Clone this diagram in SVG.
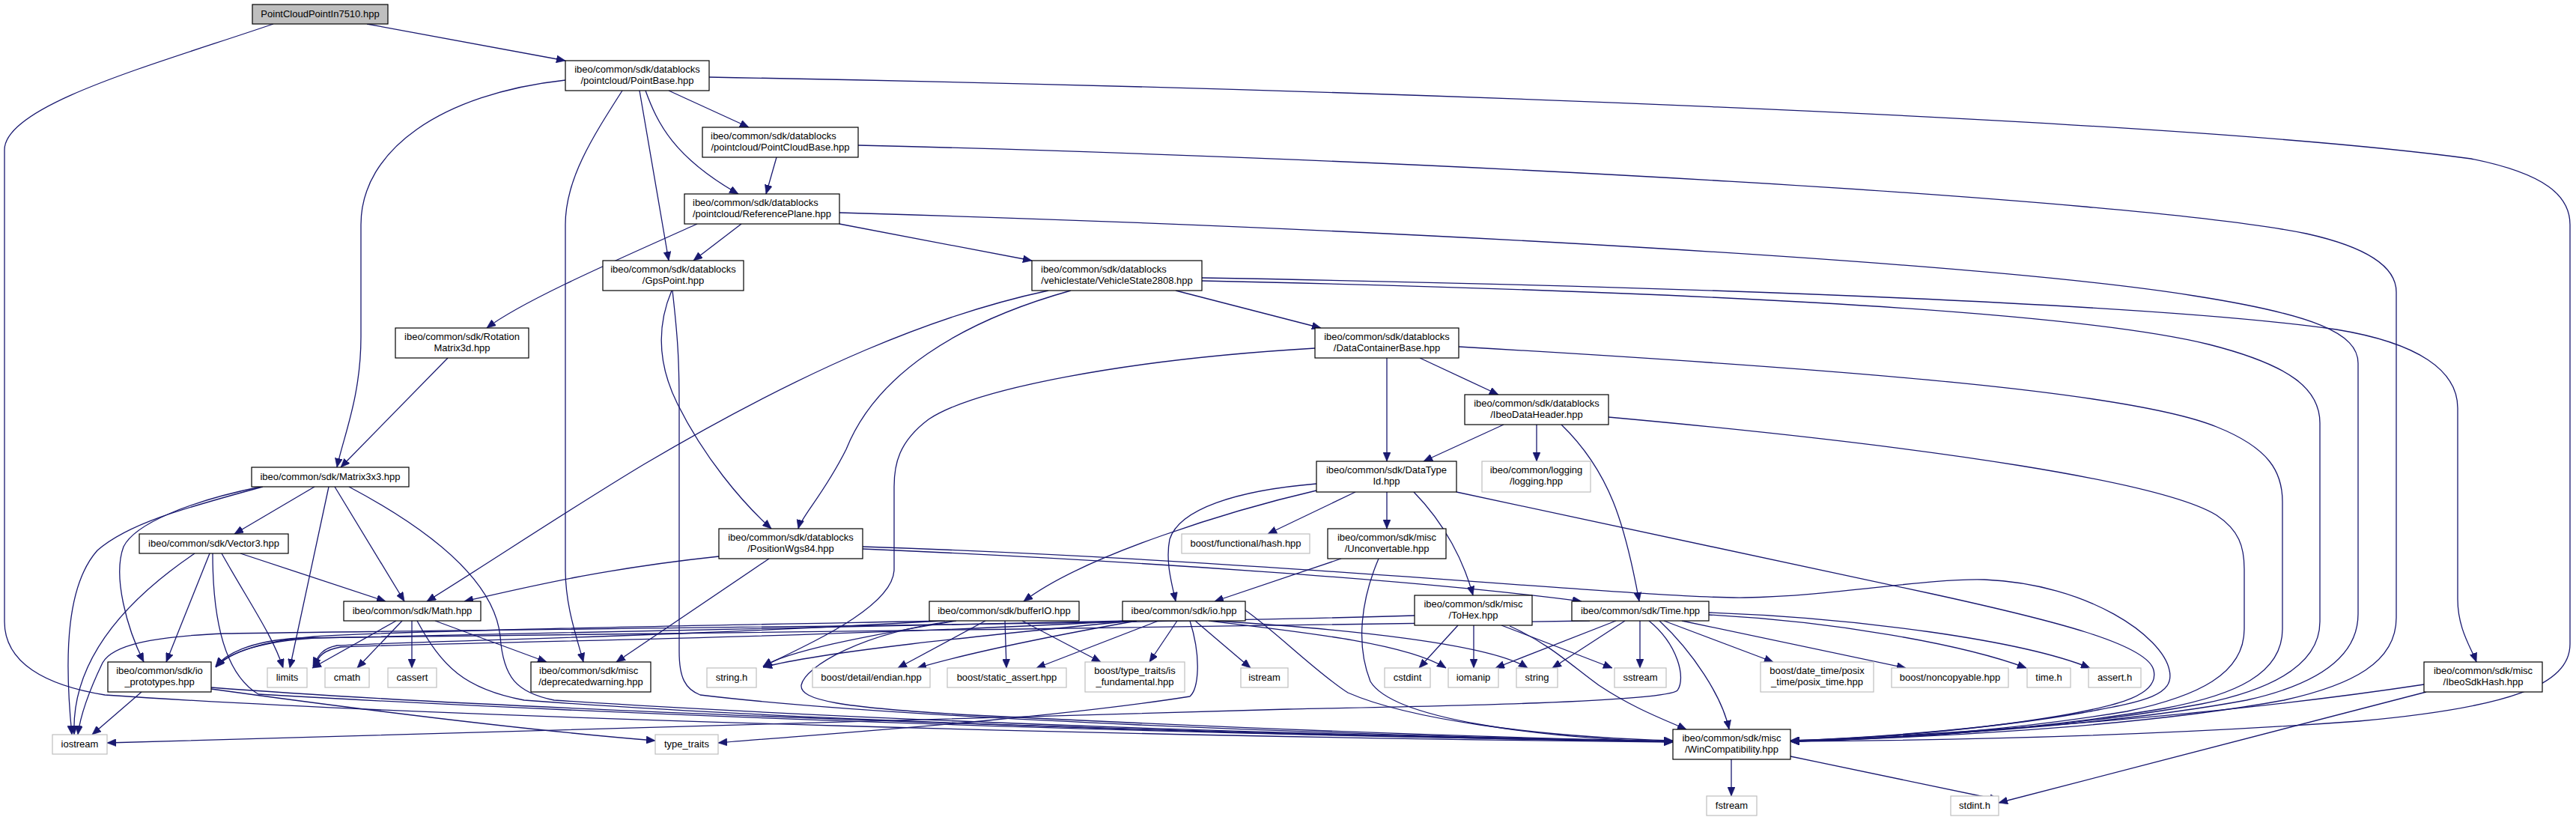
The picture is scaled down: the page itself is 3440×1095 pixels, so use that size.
<svg xmlns="http://www.w3.org/2000/svg" width="3440" height="1095" viewBox="0 0 3440 1095">
<defs>
<marker id="ah" markerUnits="userSpaceOnUse" markerWidth="13" markerHeight="10" refX="12" refY="5" orient="auto">
<path d="M0,0 L12,5 L0,10 z" fill="#191970" stroke="#191970" stroke-width="0.6"/>
</marker>
<style>
.e{fill:none;stroke:#191970;stroke-width:1.3;marker-end:url(#ah)}
.n rect{fill:#ffffff;stroke:#000000;stroke-width:1.2}
.g rect{fill:#ffffff;stroke:#bfbfbf;stroke-width:1.2}
.r rect{fill:#bfbfbf;stroke:#000000;stroke-width:1.2}
text{font-family:"Liberation Sans",Arial,Helvetica,sans-serif;font-size:13px;fill:#000000}
.c{text-anchor:middle}
</style>
</defs>
<rect x="0" y="0" width="3440" height="1095" fill="#ffffff"/>
<g id="edges">
<path class="e" d="M490,32 L755,81"/>
<path class="e" d="M365,32 C210,85 6,140 6,200 L6,830 C6,885 60,915 140,928 C600,960 1600,985 2234,991"/>
<path class="e" d="M893,121 L1000,170"/>
<path class="e" d="M862,121 C878,165 900,210 986,259"/>
<path class="e" d="M854,121 L893,348"/>
<path class="e" d="M755,107 C590,125 482,200 482,300 L482,450 C482,530 458,585 450,624"/>
<path class="e" d="M831,121 C790,185 755,240 755,300 L755,760 C755,810 770,850 779,884"/>
<path class="e" d="M947,103 C1800,118 2900,158 3300,212 C3400,232 3432,262 3432,300 L3432,860 C3432,915 3350,945 3150,963 C2850,985 2550,989 2391,990"/>
<path class="e" d="M1037,210 L1023,259"/>
<path class="e" d="M1146,194 C1900,212 2850,265 3080,312 C3170,332 3200,360 3200,390 L3200,825 C3200,885 3140,915 3050,935 C2850,972 2550,986 2391,990"/>
<path class="e" d="M990,299 L926,348"/>
<path class="e" d="M931,299 C840,340 700,400 650,438"/>
<path class="e" d="M1121,299 L1378,348"/>
<path class="e" d="M1121,284 C1850,305 2650,350 2930,395 C3090,420 3149,445 3149,485 L3149,820 C3149,880 3090,915 3000,935 C2800,972 2520,986 2391,990"/>
<path class="e" d="M897,388 C875,440 880,490 905,540 C940,610 990,670 1030,706"/>
<path class="e" d="M898,388 C905,450 907,480 907,540 L907,870 C907,905 915,920 935,928 C1200,960 1800,982 2234,990"/>
<path class="e" d="M598,478 L455,624"/>
<path class="e" d="M1570,388 L1764,438"/>
<path class="e" d="M1400,388 C1250,420 1080,490 860,620 C760,680 640,760 570,803"/>
<path class="e" d="M1430,388 C1280,430 1170,500 1130,600 C1100,660 1070,690 1066,706"/>
<path class="e" d="M1605,371 C2300,383 2900,408 3120,440 C3230,458 3282,495 3282,545 L3282,800 C3282,840 3300,865 3307,884"/>
<path class="e" d="M1605,375 C2300,390 2780,418 2950,460 C3060,488 3098,520 3098,565 L3098,830 C3098,890 3030,922 2940,940 C2750,975 2500,987 2391,990"/>
<path class="e" d="M1852,478 L1852,616"/>
<path class="e" d="M1896,478 L2001,527"/>
<path class="e" d="M1948,463 C2500,495 2850,525 2960,570 C3030,598 3048,630 3048,670 L3048,840 C3048,900 2985,928 2890,946 C2700,978 2500,988 2391,990"/>
<path class="e" d="M1756,465 C1500,480 1300,520 1240,560 C1200,590 1194,620 1194,650 L1194,760 C1194,810 1080,860 1019,890"/>
<path class="e" d="M2008,567 L1901,616"/>
<path class="e" d="M2052,567 L2052,616"/>
<path class="e" d="M2085,567 C2150,630 2170,700 2189,803"/>
<path class="e" d="M2148,557 C2600,598 2890,645 2960,688 C2990,708 2997,730 2997,760 L2997,840 C2997,900 2935,930 2840,950 C2660,980 2480,988 2391,990"/>
<path class="e" d="M1852,657 L1852,706"/>
<path class="e" d="M1888,657 C1930,700 1955,750 1967,795"/>
<path class="e" d="M1810,657 L1693,713"/>
<path class="e" d="M1758,655 C1650,680 1450,740 1367,803"/>
<path class="e" d="M1758,646 C1650,655 1575,680 1562,720 C1556,750 1565,780 1570,803"/>
<path class="e" d="M1945,657 L2580,793 C2740,828 2868,860 2876,895 C2884,928 2830,942 2750,956 C2620,978 2480,986 2391,989"/>
<path class="e" d="M1791,746 L1622,803"/>
<path class="e" d="M1841,746 C1818,800 1810,860 1830,910 C1860,960 2050,985 2234,991"/>
<path class="e" d="M1947,835 L1895,892"/>
<path class="e" d="M1968,835 L1968,892"/>
<path class="e" d="M2005,835 L2153,892"/>
<path class="e" d="M2016,836 C2070,860 2100,890 2135,915 C2180,945 2220,960 2252,974"/>
<path class="e" d="M1889,822 C1500,834 700,840 300,846 C200,850 150,862 137,885 C125,910 108,950 104,981"/>
<path class="e" d="M2158,829 L1997,892"/>
<path class="e" d="M2170,829 L2073,892"/>
<path class="e" d="M2190,829 L2190,892"/>
<path class="e" d="M2216,829 C2260,870 2300,930 2309,974"/>
<path class="e" d="M2202,829 C2240,860 2252,905 2240,922 C2220,940 1800,945 1720,947 C1400,955 900,970 143,992"/>
<path class="e" d="M2222,829 L2368,884"/>
<path class="e" d="M2246,829 L2545,892"/>
<path class="e" d="M2282,821 C2450,830 2620,860 2706,892"/>
<path class="e" d="M2282,818 C2480,825 2700,855 2791,892"/>
<path class="e" d="M2123,829 C1700,840 600,845 400,852 C330,856 300,875 288,890"/>
<path class="e" d="M960,743 C800,760 700,785 620,803"/>
<path class="e" d="M1027,746 L823,884"/>
<path class="e" d="M1152,733 C1500,748 1900,775 2112,803"/>
<path class="e" d="M1152,730 C1700,748 2200,800 2330,798 C2450,796 2570,772 2650,774 C2790,780 2888,850 2897,895 C2905,930 2860,937 2780,952 C2650,975 2480,986 2391,989"/>
<path class="e" d="M420,650 L313,713"/>
<path class="e" d="M351,650 C240,680 170,700 130,735 C90,780 85,870 96,981"/>
<path class="e" d="M348,650 C250,670 180,700 165,730 C150,770 170,840 192,884"/>
<path class="e" d="M439,650 L387,892"/>
<path class="e" d="M447,650 L540,803"/>
<path class="e" d="M466,650 C560,700 660,770 668,850 C672,905 690,925 740,935 C1200,965 1800,983 2234,990"/>
<path class="e" d="M260,739 C170,800 95,880 99,981"/>
<path class="e" d="M280,739 L222,884"/>
<path class="e" d="M284,739 C284,830 300,900 345,927 C1000,965 1800,985 2234,990"/>
<path class="e" d="M296,739 C330,800 365,850 378,892"/>
<path class="e" d="M321,739 L515,803"/>
<path class="e" d="M529,829 L417,892"/>
<path class="e" d="M537,829 L477,892"/>
<path class="e" d="M550,829 L550,892"/>
<path class="e" d="M581,829 L730,884"/>
<path class="e" d="M557,829 C590,890 620,920 700,935 C1100,965 1800,985 2234,990"/>
<path class="e" d="M189,924 L123,981"/>
<path class="e" d="M282,920 C500,950 700,975 875,989"/>
<path class="e" d="M282,918 C700,950 1600,980 2234,990"/>
<path class="e" d="M1277,829 C1150,850 1050,870 1019,890"/>
<path class="e" d="M1316,829 L1199,892"/>
<path class="e" d="M1342,829 L1344,892"/>
<path class="e" d="M1365,829 L1470,884"/>
<path class="e" d="M1262,829 C900,836 550,842 420,850 C350,856 305,872 288,890"/>
<path class="e" d="M1258,829 C900,850 600,855 450,862 C430,866 425,875 418,890"/>
<path class="e" d="M1275,829 C1150,845 1075,890 1070,915 C1068,935 1120,945 1300,955 C1700,975 2000,985 2234,990"/>
<path class="e" d="M1518,829 C1400,850 1300,870 1225,892"/>
<path class="e" d="M1547,829 L1384,892"/>
<path class="e" d="M1572,829 L1535,884"/>
<path class="e" d="M1596,829 L1670,892"/>
<path class="e" d="M1589,829 C1605,880 1600,920 1589,930 C1400,960 1100,980 959,992"/>
<path class="e" d="M1614,829 C1750,845 1880,860 1931,892"/>
<path class="e" d="M1620,829 C1800,840 1990,860 2040,892"/>
<path class="e" d="M1663,815 C1700,840 1760,900 1800,925 C1880,960 2050,984 2234,989"/>
<path class="e" d="M1510,829 C1100,838 600,846 420,852 C340,857 305,873 288,891"/>
<path class="e" d="M1506,829 C1100,852 600,858 455,864 C432,868 425,876 419,891"/>
<path class="e" d="M1512,829 C1300,850 1100,870 1019,891"/>
<path class="e" d="M2312,1014 L2312,1063"/>
<path class="e" d="M2391,1010 L2669,1068"/>
<path class="e" d="M3240,924 L2669,1072"/>
<path class="e" d="M3237,914 C3000,950 2700,975 2391,990"/>
</g>
<g id="n_root" class="r"><rect x="337" y="6" width="181" height="26"/><text class="c" x="427.5" y="23">PointCloudPointIn7510.hpp</text></g>
<g id="n_pointbase" class="n"><rect x="755" y="81" width="192" height="40"/><text class="c" x="851" y="97">ibeo/common/sdk/datablocks</text><text class="c" x="851" y="112">/pointcloud/PointBase.hpp</text></g>
<g id="n_pointcloudbase" class="n"><rect x="938" y="170" width="208" height="40"/><text x="949" y="186">ibeo/common/sdk/datablocks</text><text class="c" x="1042" y="201">/pointcloud/PointCloudBase.hpp</text></g>
<g id="n_referenceplane" class="n"><rect x="914" y="259" width="207" height="40"/><text x="925" y="275">ibeo/common/sdk/datablocks</text><text class="c" x="1017.5" y="290">/pointcloud/ReferencePlane.hpp</text></g>
<g id="n_gpspoint" class="n"><rect x="805" y="348" width="188" height="40"/><text class="c" x="899" y="364">ibeo/common/sdk/datablocks</text><text class="c" x="899" y="379">/GpsPoint.hpp</text></g>
<g id="n_vehiclestate" class="n"><rect x="1378" y="348" width="227" height="40"/><text x="1390" y="364">ibeo/common/sdk/datablocks</text><text class="c" x="1491.5" y="379">/vehiclestate/VehicleState2808.hpp</text></g>
<g id="n_rotation" class="n"><rect x="528" y="438" width="178" height="40"/><text class="c" x="617" y="454">ibeo/common/sdk/Rotation</text><text class="c" x="617" y="469">Matrix3d.hpp</text></g>
<g id="n_matrix3x3" class="n"><rect x="336" y="624" width="210" height="26"/><text class="c" x="441" y="641">ibeo/common/sdk/Matrix3x3.hpp</text></g>
<g id="n_vector3" class="n"><rect x="186" y="713" width="199" height="26"/><text class="c" x="285.5" y="730">ibeo/common/sdk/Vector3.hpp</text></g>
<g id="n_math" class="n"><rect x="459" y="803" width="183" height="26"/><text class="c" x="550.5" y="820">ibeo/common/sdk/Math.hpp</text></g>
<g id="n_ioprototypes" class="n"><rect x="144" y="884" width="138" height="40"/><text class="c" x="213" y="900">ibeo/common/sdk/io</text><text class="c" x="213" y="915">_prototypes.hpp</text></g>
<g id="n_limits" class="g"><rect x="357" y="892" width="53" height="26"/><text class="c" x="383.5" y="909">limits</text></g>
<g id="n_cmath" class="g"><rect x="434" y="892" width="59" height="26"/><text class="c" x="463.5" y="909">cmath</text></g>
<g id="n_cassert" class="g"><rect x="518" y="892" width="65" height="26"/><text class="c" x="550.5" y="909">cassert</text></g>
<g id="n_deprecated" class="n"><rect x="709" y="884" width="160" height="40"/><text x="720" y="900">ibeo/common/sdk/misc</text><text class="c" x="789" y="915">/deprecatedwarning.hpp</text></g>
<g id="n_iostream" class="g"><rect x="70" y="981" width="73" height="26"/><text class="c" x="106.5" y="998">iostream</text></g>
<g id="n_positionwgs84" class="n"><rect x="960" y="706" width="192" height="40"/><text class="c" x="1056" y="722">ibeo/common/sdk/datablocks</text><text class="c" x="1056" y="737">/PositionWgs84.hpp</text></g>
<g id="n_bufferio" class="n"><rect x="1241" y="803" width="200" height="26"/><text class="c" x="1341" y="820">ibeo/common/sdk/bufferIO.hpp</text></g>
<g id="n_io" class="n"><rect x="1499" y="803" width="164" height="26"/><text class="c" x="1581" y="820">ibeo/common/sdk/io.hpp</text></g>
<g id="n_stringh" class="g"><rect x="944" y="892" width="66" height="26"/><text class="c" x="977" y="909">string.h</text></g>
<g id="n_endian" class="g"><rect x="1085" y="892" width="157" height="26"/><text class="c" x="1163.5" y="909">boost/detail/endian.hpp</text></g>
<g id="n_staticassert" class="g"><rect x="1265" y="892" width="159" height="26"/><text class="c" x="1344.5" y="909">boost/static_assert.hpp</text></g>
<g id="n_isfundamental" class="g"><rect x="1449" y="884" width="133" height="40"/><text class="c" x="1515.5" y="900">boost/type_traits/is</text><text class="c" x="1515.5" y="915">_fundamental.hpp</text></g>
<g id="n_istream" class="g"><rect x="1657" y="892" width="63" height="26"/><text class="c" x="1688.5" y="909">istream</text></g>
<g id="n_typetraits" class="g"><rect x="875" y="981" width="84" height="26"/><text class="c" x="917" y="998">type_traits</text></g>
<g id="n_hash" class="g"><rect x="1578" y="713" width="171" height="26"/><text class="c" x="1663.5" y="730">boost/functional/hash.hpp</text></g>
<g id="n_datacontainerbase" class="n"><rect x="1756" y="438" width="192" height="40"/><text class="c" x="1852" y="454">ibeo/common/sdk/datablocks</text><text class="c" x="1852" y="469">/DataContainerBase.hpp</text></g>
<g id="n_ibeodataheader" class="n"><rect x="1956" y="527" width="192" height="40"/><text class="c" x="2052" y="543">ibeo/common/sdk/datablocks</text><text class="c" x="2052" y="558">/IbeoDataHeader.hpp</text></g>
<g id="n_datatypeid" class="n"><rect x="1758" y="616" width="187" height="41"/><text class="c" x="1851.5" y="632">ibeo/common/sdk/DataType</text><text class="c" x="1851.5" y="647">Id.hpp</text></g>
<g id="n_logging" class="g"><rect x="1979" y="616" width="145" height="41"/><text class="c" x="2051.5" y="632">ibeo/common/logging</text><text class="c" x="2051.5" y="647">/logging.hpp</text></g>
<g id="n_unconvertable" class="n"><rect x="1773" y="706" width="158" height="40"/><text class="c" x="1852" y="722">ibeo/common/sdk/misc</text><text class="c" x="1852" y="737">/Unconvertable.hpp</text></g>
<g id="n_tohex" class="n"><rect x="1889" y="795" width="157" height="40"/><text class="c" x="1967.5" y="811">ibeo/common/sdk/misc</text><text class="c" x="1967.5" y="826">/ToHex.hpp</text></g>
<g id="n_time" class="n"><rect x="2099" y="803" width="183" height="26"/><text class="c" x="2190.5" y="820">ibeo/common/sdk/Time.hpp</text></g>
<g id="n_cstdint" class="g"><rect x="1849" y="892" width="61" height="26"/><text class="c" x="1879.5" y="909">cstdint</text></g>
<g id="n_iomanip" class="g"><rect x="1934" y="892" width="67" height="26"/><text class="c" x="1967.5" y="909">iomanip</text></g>
<g id="n_string" class="g"><rect x="2025" y="892" width="55" height="26"/><text class="c" x="2052.5" y="909">string</text></g>
<g id="n_sstream" class="g"><rect x="2156" y="892" width="69" height="26"/><text class="c" x="2190.5" y="909">sstream</text></g>
<g id="n_posixtime" class="g"><rect x="2351" y="884" width="151" height="40"/><text class="c" x="2426.5" y="900">boost/date_time/posix</text><text class="c" x="2426.5" y="915">_time/posix_time.hpp</text></g>
<g id="n_noncopyable" class="g"><rect x="2526" y="892" width="156" height="26"/><text class="c" x="2604" y="909">boost/noncopyable.hpp</text></g>
<g id="n_timeh" class="g"><rect x="2707" y="892" width="58" height="26"/><text class="c" x="2736" y="909">time.h</text></g>
<g id="n_asserth" class="g"><rect x="2789" y="892" width="70" height="26"/><text class="c" x="2824" y="909">assert.h</text></g>
<g id="n_ibeosdkhash" class="n"><rect x="3237" y="884" width="158" height="40"/><text class="c" x="3316" y="900">ibeo/common/sdk/misc</text><text class="c" x="3316" y="915">/IbeoSdkHash.hpp</text></g>
<g id="n_wincompat" class="n"><rect x="2234" y="974" width="157" height="40"/><text class="c" x="2312.5" y="990">ibeo/common/sdk/misc</text><text class="c" x="2312.5" y="1005">/WinCompatibility.hpp</text></g>
<g id="n_fstream" class="g"><rect x="2279" y="1063" width="67" height="26"/><text class="c" x="2312.5" y="1080">fstream</text></g>
<g id="n_stdint" class="g"><rect x="2605" y="1063" width="64" height="26"/><text class="c" x="2637" y="1080">stdint.h</text></g>
</svg>
